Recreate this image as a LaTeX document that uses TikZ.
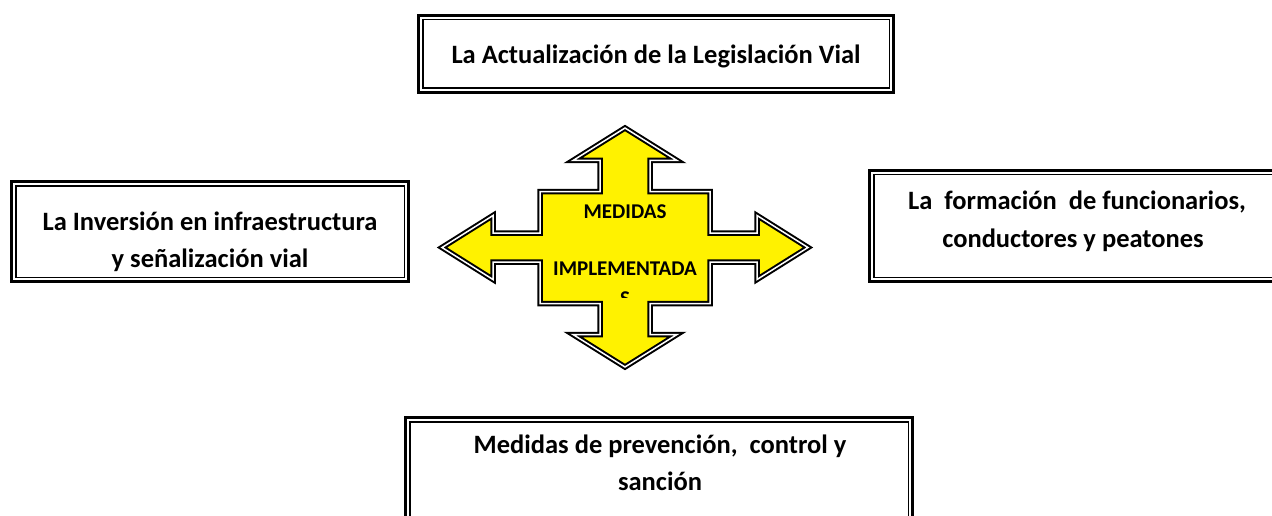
\documentclass[tikz,border=0pt]{standalone}
\usepackage{fontspec}
\setmainfont{Carlito}
\begin{document}
\begin{tikzpicture}[x=1pt,y=-1pt,
  frame/.style={draw=black, line width=3pt, fill=white, inner sep=0pt, outer sep=0pt},
  inframe/.style={draw=black, line width=1.5pt},
  txt/.style={font=\fontsize{26.5}{30}\selectfont\bfseries, inner sep=0pt, anchor=base},
  atxt/.style={font=\fontsize{21}{24}\selectfont\bfseries, inner sep=0pt, anchor=base},
  cross/.style={fill=yellow, draw=black, line width=2pt, double=white, double distance=1.5pt, line join=miter}]
\clip (0,0) rectangle (1272,516);
\fill[white] (0,0) rectangle (1272,516);

% boxes
\node[frame, minimum width=475pt, minimum height=77pt] (top) at (656,54) {};
\node[frame, minimum width=397pt, minimum height=100pt] (left) at (210,231.5) {};
\node[frame, minimum width=411pt, minimum height=111pt] (right) at (1075,226) {};
\node[frame, minimum width=507pt, minimum height=141pt] (bottom) at (659,488) {};
\foreach \b in {top,left,right,bottom}{
  \draw[inframe] ([shift={(4.25,4.25)}]\b.north west) rectangle ([shift={(-4.25,-4.25)}]\b.south east);
}

% texts
\node[txt] (topt) at (656,64) {La Actualización de la Legislación Vial};
\node[txt] (leftt1) at (210,230) {La Inversión en infraestructura};
\node[txt] (leftt2) at (210,267) {y señalización vial};
\node[txt] (rightt1) at (1077,209) {La\ \ formación\ \ de funcionarios,};
\node[txt] (rightt2) at (1073,247) {conductores y peatones};
\node[txt] (bott1) at (660,453) {Medidas de prevención,\ \ control y};
\node[txt] (bott2) at (660,490) {sanción};

% four-way arrow
\path[cross] (625,128) -- (677,160.5) -- (650,160.5) -- (650,191.5) -- (710,191.5) -- (710,233)
  -- (757,233) -- (757,215.5) -- (808,247.5) -- (757,279.5) -- (757,262) -- (710,262)
  -- (710,303.5) -- (650,303.5) -- (650,334.5) -- (677,334.5) -- (625,367) -- (573,334.5)
  -- (600,334.5) -- (600,303.5) -- (540,303.5) -- (540,262) -- (493,262) -- (493,279.5)
  -- (442,247.5) -- (493,215.5) -- (493,233) -- (540,233) -- (540,191.5) -- (600,191.5)
  -- (600,160.5) -- (573,160.5) -- cycle;
\node[atxt] (med1) at (625,218) {MEDIDAS};
\node[atxt] (med2) at (625,275) {IMPLEMENTADA};
\begin{scope}
  \clip (540,250) rectangle (710,297);
  \node[atxt] (med3) at (625,305) {S};
\end{scope}
\end{tikzpicture}
\end{document}
